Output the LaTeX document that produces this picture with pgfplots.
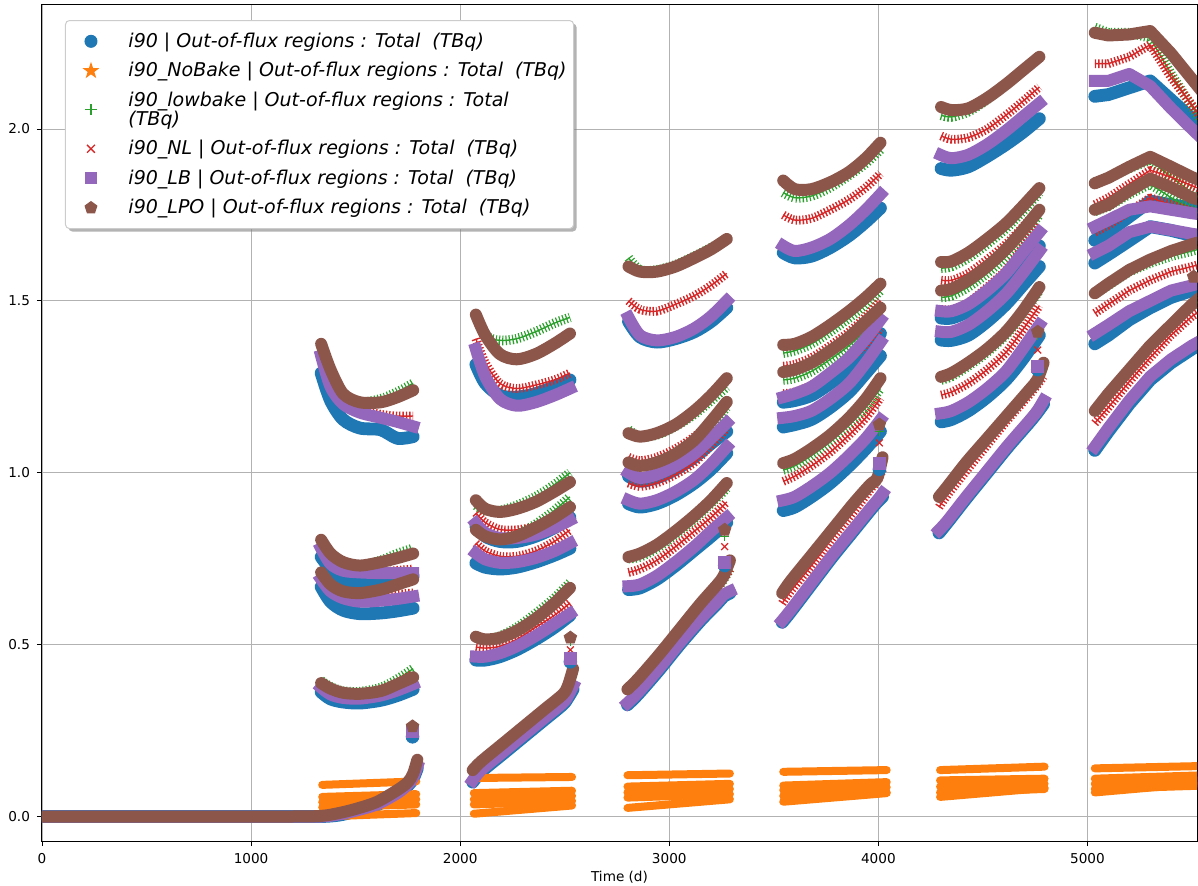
\documentclass[border=0pt]{standalone}
\usepackage{fontspec}
\setmainfont{DejaVu Sans}
\usepackage{pgfplots}
\usepackage{pgfplotstable}
\pgfplotsset{compat=1.18}
\usetikzlibrary{shadows}

\definecolor{c0}{HTML}{1F77B4}
\definecolor{c1}{HTML}{FF7F0E}
\definecolor{c2}{HTML}{2CA02C}
\definecolor{c3}{HTML}{D62728}
\definecolor{c4}{HTML}{9467BD}
\definecolor{c5}{HTML}{8C564B}

% filled five-pointed star marker
\pgfdeclareplotmark{fstar}{%
  \pgfpathmoveto{\pgfpointpolar{90}{1.15\pgfplotmarksize}}%
  \pgfpathlineto{\pgfpointpolar{126}{0.45\pgfplotmarksize}}%
  \pgfpathlineto{\pgfpointpolar{162}{1.15\pgfplotmarksize}}%
  \pgfpathlineto{\pgfpointpolar{198}{0.45\pgfplotmarksize}}%
  \pgfpathlineto{\pgfpointpolar{234}{1.15\pgfplotmarksize}}%
  \pgfpathlineto{\pgfpointpolar{270}{0.45\pgfplotmarksize}}%
  \pgfpathlineto{\pgfpointpolar{306}{1.15\pgfplotmarksize}}%
  \pgfpathlineto{\pgfpointpolar{342}{0.45\pgfplotmarksize}}%
  \pgfpathlineto{\pgfpointpolar{18}{1.15\pgfplotmarksize}}%
  \pgfpathlineto{\pgfpointpolar{54}{0.45\pgfplotmarksize}}%
  \pgfpathclose\pgfusepathqfillstroke}

% ---------- activity per cycle: x = time (d); B=i90, G=lowbake, R=NL, P=LB, N=LPO
% cycle 1
\pgfplotstableread{
x B G R P N
1335 1.29 1.37 1.35 1.34 1.375
1380 1.21 1.28 1.27 1.25 1.30
1440 1.155 1.225 1.21 1.20 1.23
1520 1.13 1.205 1.185 1.175 1.205
1620 1.125 1.215 1.17 1.16 1.205
1700 1.10 1.235 1.165 1.148 1.22
1775 1.105 1.26 1.165 1.135 1.24
}\cAa
\pgfplotstableread{
x B G R P N
1335 0.755 0.80 0.79 0.78 0.805
1380 0.72 0.76 0.745 0.735 0.765
1440 0.69 0.735 0.715 0.715 0.74
1520 0.685 0.73 0.71 0.71 0.73
1620 0.69 0.745 0.712 0.708 0.74
1700 0.695 0.765 0.716 0.708 0.752
1775 0.70 0.78 0.72 0.708 0.765
}\cAb
\pgfplotstableread{
x B G R P N
1335 0.668 0.71 0.70 0.69 0.71
1380 0.625 0.675 0.665 0.655 0.675
1440 0.60 0.655 0.645 0.635 0.655
1520 0.59 0.65 0.64 0.625 0.65
1620 0.592 0.66 0.643 0.628 0.66
1700 0.598 0.68 0.647 0.633 0.675
1775 0.606 0.695 0.65 0.64 0.69
}\cAc
\pgfplotstableread{
x B G R P N
1335 0.362 0.395 0.39 0.375 0.388
1380 0.342 0.378 0.372 0.355 0.372
1440 0.333 0.365 0.36 0.345 0.36
1520 0.33 0.363 0.358 0.343 0.357
1620 0.338 0.375 0.37 0.352 0.365
1700 0.352 0.40 0.39 0.367 0.385
1775 0.37 0.43 0.415 0.385 0.405
}\cAd
\pgfplotstableread{
x B G R P N
0 0 0 0 0 0
600 0 0 0 0 0
1200 0 0 0 0 0
1340 0 0.002 0.002 0 0.002
1420 0.004 0.01 0.01 0.006 0.01
1500 0.015 0.022 0.022 0.017 0.022
1600 0.033 0.042 0.042 0.035 0.042
1700 0.065 0.077 0.077 0.068 0.077
1750 0.09 0.10 0.10 0.093 0.10
1775 0.11 0.125 0.125 0.113 0.125
1795 0.14 0.165 0.165 0.145 0.165
}\cAr
\pgfplotstableread{
x B G R P N
1772 0.232 0.262 0.255 0.247 0.262
}\cAi
% cycle 2
\pgfplotstableread{
x B G R P N
2075 1.315 1.46 1.39 1.36 1.46
2120 1.26 1.40 1.32 1.28 1.40
2190 1.225 1.385 1.26 1.215 1.345
2270 1.22 1.39 1.245 1.195 1.33
2360 1.23 1.41 1.255 1.205 1.345
2450 1.25 1.435 1.27 1.225 1.375
2525 1.27 1.452 1.29 1.245 1.405
}\cBa
\pgfplotstableread{
x B G R P N
2075 0.845 0.905 0.883 0.853 0.92
2120 0.815 0.89 0.855 0.825 0.895
2190 0.80 0.89 0.835 0.81 0.886
2270 0.80 0.905 0.834 0.81 0.895
2360 0.815 0.93 0.843 0.82 0.915
2450 0.84 0.965 0.857 0.84 0.945
2525 0.87 1.0 0.872 0.862 0.973
}\cBb
\pgfplotstableread{
x B G R P N
2075 0.737 0.83 0.795 0.766 0.834
2120 0.725 0.815 0.772 0.748 0.815
2190 0.72 0.81 0.757 0.738 0.806
2270 0.725 0.82 0.757 0.74 0.815
2360 0.74 0.85 0.772 0.752 0.84
2450 0.76 0.89 0.80 0.772 0.87
2525 0.78 0.93 0.834 0.795 0.90
}\cBc
\pgfplotstableread{
x B G R P N
2075 0.455 0.52 0.493 0.465 0.523
2120 0.455 0.515 0.49 0.465 0.515
2190 0.465 0.525 0.495 0.475 0.52
2270 0.485 0.55 0.515 0.495 0.54
2360 0.515 0.59 0.55 0.525 0.575
2450 0.55 0.635 0.585 0.56 0.62
2525 0.585 0.68 0.621 0.59 0.665
}\cBd
\pgfplotstableread{
x B G R P N
2060 0.10 0.13 0.13 0.105 0.135
2100 0.13 0.155 0.155 0.135 0.16
2200 0.18 0.205 0.205 0.185 0.21
2300 0.23 0.255 0.255 0.235 0.26
2400 0.28 0.305 0.305 0.285 0.31
2490 0.325 0.35 0.35 0.33 0.355
2515 0.345 0.375 0.375 0.35 0.38
2540 0.37 0.42 0.42 0.38 0.43
}\cBr
\pgfplotstableread{
x B G R P N
2527 0.45 0.51 0.485 0.46 0.52
}\cBi
% cycle 3
\pgfplotstableread{
x B G R P N
2805 1.44 1.625 1.50 1.452 1.60
2860 1.395 1.59 1.475 1.40 1.585
2940 1.38 1.59 1.47 1.385 1.585
3030 1.39 1.605 1.49 1.395 1.60
3120 1.41 1.63 1.515 1.42 1.625
3200 1.44 1.655 1.545 1.455 1.65
3275 1.48 1.68 1.58 1.50 1.68
}\cCa
\pgfplotstableread{
x B G R P N
2805 0.99 1.125 1.045 1.00 1.115
2860 0.975 1.105 1.035 0.985 1.105
2940 0.985 1.11 1.045 0.995 1.115
3030 1.01 1.135 1.07 1.02 1.14
3120 1.045 1.17 1.105 1.055 1.18
3200 1.085 1.21 1.15 1.10 1.225
3275 1.12 1.25 1.20 1.145 1.275
}\cCb
\pgfplotstableread{
x B G R P N
2805 0.91 1.03 0.97 0.92 1.03
2860 0.90 1.02 0.96 0.91 1.02
2940 0.91 1.03 0.97 0.92 1.03
3030 0.935 1.055 0.995 0.945 1.055
3120 0.97 1.09 1.03 0.98 1.095
3200 1.01 1.14 1.08 1.025 1.15
3275 1.057 1.19 1.13 1.075 1.206
}\cCc
\pgfplotstableread{
x B G R P N
2805 0.66 0.75 0.71 0.67 0.755
2860 0.665 0.755 0.72 0.675 0.765
2940 0.69 0.78 0.745 0.70 0.79
3030 0.73 0.82 0.785 0.74 0.83
3120 0.775 0.865 0.83 0.785 0.875
3200 0.815 0.91 0.87 0.83 0.92
3275 0.855 0.955 0.915 0.87 0.97
}\cCd
\pgfplotstableread{
x B G R P N
2800 0.325 0.36 0.36 0.33 0.37
2850 0.355 0.39 0.39 0.36 0.40
2950 0.425 0.46 0.46 0.43 0.47
3050 0.50 0.535 0.535 0.505 0.545
3150 0.57 0.61 0.61 0.575 0.62
3230 0.62 0.665 0.665 0.625 0.675
3260 0.64 0.69 0.69 0.645 0.70
3290 0.65 0.72 0.72 0.655 0.745
}\cCr
\pgfplotstableread{
x B G R P N
3265 0.73 0.815 0.785 0.74 0.834
}\cCi
% cycle 4
\pgfplotstableread{
x B G R P N
3545 1.64 1.815 1.75 1.66 1.85
3600 1.625 1.80 1.735 1.645 1.825
3680 1.63 1.805 1.74 1.655 1.825
3770 1.655 1.83 1.765 1.68 1.845
3860 1.69 1.865 1.795 1.72 1.875
3940 1.73 1.90 1.83 1.765 1.915
4010 1.77 1.94 1.87 1.81 1.96
}\cDa
\pgfplotstableread{
x B G R P N
3545 1.205 1.348 1.31 1.22 1.372
3600 1.21 1.355 1.315 1.23 1.375
3680 1.225 1.375 1.335 1.25 1.395
3770 1.26 1.41 1.37 1.29 1.43
3860 1.30 1.45 1.41 1.335 1.47
3940 1.35 1.49 1.455 1.39 1.51
4010 1.405 1.53 1.50 1.445 1.55
}\cDb
\pgfplotstableread{
x B G R P N
3545 1.133 1.27 1.23 1.16 1.293
3600 1.14 1.275 1.235 1.165 1.30
3680 1.155 1.295 1.255 1.18 1.32
3770 1.19 1.33 1.29 1.215 1.355
3860 1.235 1.37 1.33 1.26 1.395
3940 1.29 1.415 1.375 1.32 1.44
4010 1.34 1.46 1.42 1.38 1.48
}\cDc
\pgfplotstableread{
x B G R P N
3545 0.89 1.008 0.975 0.92 1.028
3600 0.90 1.02 0.99 0.93 1.04
3680 0.93 1.05 1.02 0.96 1.07
3770 0.97 1.09 1.06 1.00 1.11
3860 1.02 1.14 1.11 1.05 1.16
3940 1.07 1.19 1.16 1.10 1.215
4010 1.12 1.245 1.217 1.154 1.275
}\cDd
\pgfplotstableread{
x B G R P N
3540 0.565 0.645 0.62 0.57 0.65
3580 0.595 0.68 0.655 0.60 0.685
3680 0.675 0.755 0.73 0.68 0.76
3780 0.755 0.83 0.81 0.76 0.835
3880 0.83 0.905 0.885 0.835 0.91
3960 0.89 0.96 0.95 0.895 0.965
3995 0.915 0.98 0.975 0.92 0.985
4020 0.93 1.04 1.01 0.94 1.045
}\cDr
\pgfplotstableread{
x B G R P N
4005 1.01 1.12 1.087 1.028 1.14
}\cDi
% cycle 5
\pgfplotstableread{
x B G R P N
4300 1.885 2.04 1.98 1.924 2.064
4350 1.88 2.035 1.97 1.915 2.055
4430 1.89 2.05 1.975 1.925 2.06
4520 1.92 2.085 2.0 1.955 2.09
4610 1.955 2.13 2.04 1.995 2.13
4690 1.99 2.17 2.08 2.035 2.17
4770 2.03 2.21 2.122 2.075 2.21
}\cEa
\pgfplotstableread{
x B G R P N
4300 1.45 1.595 1.56 1.47 1.613
4350 1.45 1.60 1.56 1.47 1.615
4430 1.47 1.625 1.58 1.49 1.64
4520 1.51 1.665 1.62 1.53 1.68
4610 1.555 1.71 1.665 1.58 1.725
4690 1.605 1.76 1.715 1.64 1.775
4770 1.66 1.815 1.77 1.70 1.828
}\cEb
\pgfplotstableread{
x B G R P N
4300 1.386 1.51 1.475 1.41 1.53
4350 1.385 1.515 1.475 1.41 1.535
4430 1.40 1.54 1.495 1.43 1.56
4520 1.44 1.58 1.54 1.47 1.60
4610 1.49 1.63 1.59 1.52 1.65
4690 1.545 1.69 1.655 1.58 1.705
4770 1.60 1.75 1.72 1.645 1.765
}\cEc
\pgfplotstableread{
x B G R P N
4300 1.148 1.27 1.226 1.173 1.279
4350 1.155 1.28 1.235 1.18 1.29
4430 1.18 1.31 1.26 1.205 1.32
4520 1.22 1.35 1.30 1.245 1.36
4610 1.27 1.40 1.35 1.295 1.41
4690 1.33 1.46 1.415 1.36 1.47
4770 1.40 1.53 1.486 1.43 1.54
}\cEd
\pgfplotstableread{
x B G R P N
4290 0.825 0.925 0.90 0.833 0.93
4330 0.855 0.955 0.935 0.86 0.96
4420 0.925 1.025 1.005 0.93 1.03
4520 1.0 1.095 1.08 1.005 1.10
4620 1.075 1.165 1.155 1.08 1.17
4720 1.145 1.235 1.225 1.15 1.24
4760 1.175 1.265 1.255 1.18 1.27
4790 1.20 1.31 1.28 1.21 1.32
}\cEr
\pgfplotstableread{
x B G R P N
4762 1.30 1.40 1.357 1.31 1.41
}\cEi
% cycle 6
\pgfplotstableread{
x B G R P N
5035 2.095 2.295 2.19 2.14 2.28
5100 2.10 2.28 2.19 2.14 2.272
5200 2.12 2.28 2.21 2.16 2.275
5300 2.14 2.265 2.245 2.125 2.285
5400 2.085 2.16 2.15 2.06 2.22
5500 2.03 2.065 2.07 2.0 2.145
5560 2.0 2.01 2.02 1.965 2.10
}\cFa
\pgfplotstableread{
x B G R P N
5035 1.676 1.845 1.78 1.716 1.842
5100 1.70 1.86 1.80 1.735 1.858
5200 1.745 1.885 1.84 1.765 1.89
5300 1.79 1.91 1.88 1.775 1.919
5400 1.78 1.86 1.86 1.765 1.89
5500 1.77 1.815 1.835 1.755 1.86
5560 1.76 1.79 1.82 1.75 1.845
}\cFb
\pgfplotstableread{
x B G R P N
5035 1.61 1.76 1.70 1.64 1.765
5100 1.635 1.775 1.72 1.66 1.78
5200 1.675 1.81 1.76 1.70 1.82
5300 1.716 1.84 1.80 1.716 1.855
5400 1.705 1.80 1.78 1.706 1.83
5500 1.69 1.765 1.76 1.695 1.80
5560 1.676 1.745 1.75 1.69 1.79
}\cFc
\pgfplotstableread{
x B G R P N
5035 1.375 1.52 1.464 1.405 1.522
5100 1.40 1.545 1.49 1.43 1.55
5200 1.445 1.585 1.53 1.47 1.59
5300 1.48 1.61 1.56 1.50 1.62
5400 1.51 1.63 1.585 1.53 1.645
5500 1.53 1.645 1.60 1.545 1.665
5560 1.54 1.655 1.61 1.555 1.675
}\cFd
\pgfplotstableread{
x B G R P N
5035 1.065 1.175 1.144 1.075 1.18
5100 1.12 1.225 1.19 1.13 1.23
5200 1.20 1.295 1.265 1.21 1.30
5300 1.27 1.365 1.335 1.28 1.37
5400 1.32 1.425 1.40 1.33 1.43
5500 1.36 1.485 1.455 1.37 1.49
5560 1.38 1.515 1.48 1.39 1.52
}\cFr
\pgfplotstableread{
x B G R P N
5508 nan nan nan nan 1.57
}\cFi
% i90_NoBake, five bands per cycle
\pgfplotstableread{
x O1 O2 O3 O4 O5
1340 0.092 0.057 0.042 0.027 0.0
1790 0.102 0.065 0.05 0.035 0.01
}\oA
\pgfplotstableread{
x O1 O2 O3 O4 O5
2065 0.112 0.068 0.05 0.035 0.008
2535 0.115 0.075 0.06 0.045 0.032
}\oB
\pgfplotstableread{
x O1 O2 O3 O4 O5
2800 0.12 0.087 0.07 0.055 0.025
3290 0.125 0.095 0.08 0.065 0.05
}\oC
\pgfplotstableread{
x O1 O2 O3 O4 O5
3545 0.13 0.09 0.077 0.06 0.043
4040 0.135 0.10 0.085 0.07 0.068
}\oD
\pgfplotstableread{
x O1 O2 O3 O4 O5
4295 0.135 0.105 0.087 0.07 0.057
4795 0.145 0.11 0.095 0.08 0.083
}\oE
\pgfplotstableread{
x O1 O2 O3 O4 O5
5035 0.14 0.11 0.095 0.08 0.07
5560 0.147 0.12 0.105 0.09 0.098
}\oF

\pgfplotsset{
  band/.style={forget plot, no markers, line join=round},
  sB/.style={band, draw=c0, line width=6.4pt, line cap=round},
  sO/.style={band, sharp plot, draw=c1, line width=4pt, line cap=round},
  sP/.style={band, draw=c4, line width=6pt, line cap=rect},
  sN/.style={band, draw=c5, line width=6pt, line cap=round},
  sG/.style={band, draw=c2, line width=0.7pt,
    postaction={draw=c2, line width=4.8pt, line cap=butt, dash pattern=on 0.6pt off 1.1pt}},
  sR/.style={band, draw=c3, line width=0.7pt,
    postaction={draw=c3, line width=4.4pt, line cap=butt, dash pattern=on 0.7pt off 1.0pt}},
  iB/.style={forget plot, only marks, mark=*, c0, mark size=3.2pt},
  iG/.style={forget plot, only marks, mark=+, c2, mark size=2.4pt, mark options={line width=0.6pt}},
  iR/.style={forget plot, only marks, mark=x, c3, mark size=2.4pt, mark options={line width=0.6pt}},
  iP/.style={forget plot, only marks, mark=square*, c4, mark size=3pt},
  iN/.style={forget plot, only marks, mark=pentagon*, c5, mark size=3.3pt},
}

% plot column #2 of the table named #3 with style #1
\newcommand\plotfrom[3]{\expandafter\plotfromX\csname #3\endcsname{#1}{#2}}
\newcommand\plotfromX[3]{\addplot[#2] table[y=#3]{#1};}
% one series over all cycles: #1 band style, #2 column, #3 single-point style
\newcommand\series[3]{%
  \pgfplotsinvokeforeach{cAa,cAb,cAc,cAd,cAr,cBa,cBb,cBc,cBd,cBr,cCa,cCb,cCc,cCd,cCr,cDa,cDb,cDc,cDd,cDr,cEa,cEb,cEc,cEd,cEr}{\plotfrom{#1,smooth}{#2}{##1}}%
  \pgfplotsinvokeforeach{cFa,cFb,cFc,cFd,cFr}{\plotfrom{#1,sharp plot}{#2}{##1}}%
  \pgfplotsinvokeforeach{cAi,cBi,cCi,cDi,cEi,cFi}{\plotfrom{#3}{#2}{##1}}%
}

\begin{document}
\begin{tikzpicture}
\begin{axis}[
  scale only axis, width=577.5pt, height=418pt,
  xmin=0, xmax=5524, ymin=-0.0713, ymax=2.3607,
  axis line style={black, line width=0.5pt},
  grid=major, major grid style={color=black!30, line width=0.4pt},
  tick align=outside, major tick length=2.5pt,
  xtick pos=bottom, ytick pos=left,
  tick style={black, line width=0.4pt},
  xtick={0,1000,2000,3000,4000,5000}, ytick={0,0.5,1,1.5,2},
  scaled ticks=false,
  xticklabel style={/pgf/number format/1000 sep={}},
  yticklabel style={/pgf/number format/fixed, /pgf/number format/fixed zerofill, /pgf/number format/precision=1},
  /pgf/number format/assume math mode=true,
  tick label style={font=\fontsize{6.8}{8}\selectfont},
  xlabel={Time (d)},
  xlabel style={font=\fontsize{6.8}{8}\selectfont, at={(axis description cs:0.5,0)}, anchor=center, yshift=-18pt},
  legend cell align=left,
  legend image code/.code={\path (-11pt,0pt) (16.5pt,0pt);
    \draw[#1] plot coordinates {(0pt,0pt)};},
  legend style={at={(0.0199,0.982)}, anchor=north west, draw=black!20, line width=0.5pt,
    fill=white, rounded corners=2pt,
    drop shadow={shadow xshift=1.5pt, shadow yshift=-1.5pt, fill=black!50, opacity=0.6},
    font=\fontsize{9.5}{8.5}\selectfont\itshape,
    inner xsep=1.5pt, inner ysep=3pt, row sep=0pt,
    nodes={inner ysep=3pt, align=left}},
]
\addlegendimage{only marks, mark=*, c0, mark size=3pt}
\addlegendentry{i90 | Out-of-flux regions : Total\ \ (TBq)}
\addlegendimage{only marks, mark=fstar, c1, mark size=3.2pt, mark options={sharp corners}}
\addlegendentry{i90\_NoBake | Out-of-flux regions : Total\ \ (TBq)}
\addlegendimage{only marks, mark=+, c2, mark size=2.8pt, mark options={line width=0.7pt}}
\addlegendentry{i90\_lowbake | Out-of-flux regions : Total\\[-1pt](TBq)}
\addlegendimage{only marks, mark=x, c3, mark size=2.8pt, mark options={line width=0.7pt}}
\addlegendentry{i90\_NL | Out-of-flux regions : Total\ \ (TBq)}
\addlegendimage{only marks, mark=square*, c4, mark size=2.8pt, mark options={sharp corners}}
\addlegendentry{i90\_LB | Out-of-flux regions : Total\ \ (TBq)}
\addlegendimage{only marks, mark=pentagon*, c5, mark size=3.1pt, mark options={sharp corners}}
\addlegendentry{i90\_LPO | Out-of-flux regions : Total\ \ (TBq)}

\series{sB}{B}{iB}
\pgfplotsinvokeforeach{oA,oB,oC,oD,oE,oF}{%
  \plotfrom{sO}{O1}{#1}\plotfrom{sO}{O2}{#1}\plotfrom{sO}{O3}{#1}%
  \plotfrom{sO}{O4}{#1}\plotfrom{sO}{O5}{#1}}
\series{sG}{G}{iG}
\series{sR}{R}{iR}
\series{sP}{P}{iP}
\series{sN}{N}{iN}
\end{axis}
\pgfresetboundingbox
\path ([xshift=-21pt,yshift=-22pt]current axis.south west) rectangle ([xshift=0.5pt,yshift=2.5pt]current axis.north east);
\end{tikzpicture}
\end{document}
